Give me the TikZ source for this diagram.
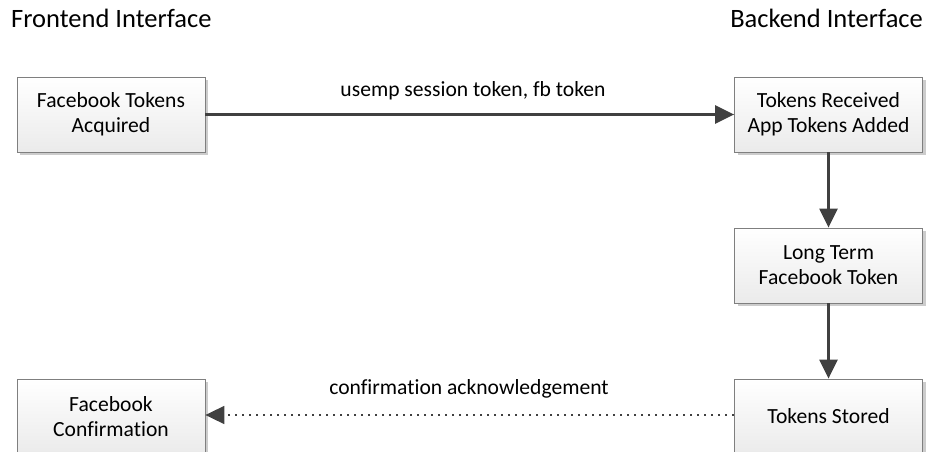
\documentclass[tikz,border=0pt]{standalone}
\usepackage{fontspec}
\setmainfont{Carlito}[Ligatures=NoCommon]
\usetikzlibrary{arrows.meta,shadows}
\definecolor{edgec}{HTML}{404040}
\definecolor{boxb}{HTML}{7F7F7F}
\tikzset{
  procbox/.style={draw=boxb, line width=0.8pt, top color=white, bottom color=black!8,
    minimum width=188pt, minimum height=75pt, align=center, font=\fontsize{21.6}{25}\selectfont,
    drop shadow={shadow xshift=3pt, shadow yshift=-3pt, fill=black!20, opacity=1}},
  title/.style={font=\fontsize{26.5}{30}\selectfont, inner sep=0pt},
  elabel/.style={font=\fontsize{21.6}{25}\selectfont, inner sep=0pt},
  conn/.style={draw=edgec, line width=2.4pt, -{Triangle[length=19pt,width=18pt]}},
  dconn/.style={draw=edgec, line width=1.8pt, dash pattern=on 1.8pt off 5.2pt, -{Triangle[length=19pt,width=18pt]}}
}
\begin{document}
\begin{tikzpicture}[x=1pt,y=-1pt]
\useasboundingbox (0,0) rectangle (927,452);
\node[title, anchor=base west] (ft) at (11,28) {Frontend Interface};
\node[title, anchor=base east] (bt) at (923,28) {Backend Interface};
\node[procbox] (fba) at (111,114.5) {Facebook Tokens\\Acquired};
\node[procbox] (trc) at (828.5,114.5) {Tokens Received\\App Tokens Added};
\node[procbox] (ltt) at (828.5,265.5) {Long Term\\Facebook Token};
\node[procbox] (tst) at (828.5,416.5) {Tokens Stored};
\node[procbox] (fbc) at (111,416.5) {Facebook\\Confirmation};
\draw[conn] (fba) -- (trc);
\draw[conn] (trc) -- (ltt);
\draw[conn] (ltt) -- (tst);
\draw[dconn] (tst.west |- 0,415) -- (fbc.east |- 0,415);
\node[elabel, anchor=base] (l1) at (473,96) {usemp session token, fb token};
\node[elabel, anchor=base] (l2) at (469,394) {confirmation acknowledgement};
\end{tikzpicture}
\end{document}
